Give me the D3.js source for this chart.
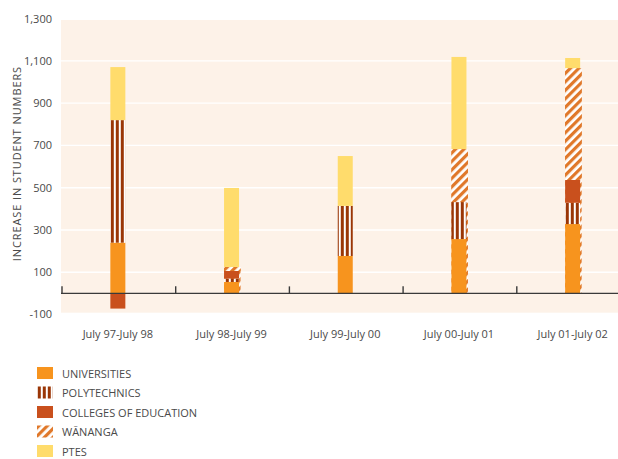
<!DOCTYPE html>
<html>
<head>
<meta charset="utf-8">
<script src="https://cdn.jsdelivr.net/npm/d3@7"></script>
<style>
  html, body { margin: 0; padding: 0; background: #ffffff; }
  svg { display: block; font-family: "Open Sans", "DejaVu Sans", sans-serif; }
</style>
</head>
<body>
<svg id="chart" width="618" height="459"></svg>
<script>
// Annual change in tertiary student numbers by provider type
const categories = ["July 97-July 98", "July 98-July 99", "July 99-July 00", "July 00-July 01", "July 01-July 02"];
const universities = [240, 54, 177, 257, 328];
const polytechnics = [580, 16, 237, 175, 101];
const colleges     = [-72, 36, 0, 0, 108];
const wananga      = [0, 19, 0, 251, 529];
const ptes         = [251, 374, 236, 436, 48];
const seriesNames  = ["UNIVERSITIES", "POLYTECHNICS", "COLLEGES OF EDUCATION", "WĀNANGA", "PTES"];
const yTicks = [-100, 100, 300, 500, 700, 900, 1100, 1300];

const keys = ["uni", "poly", "coll", "wan", "pte"];
const rows = categories.map((c, i) => ({
  cat: c, uni: universities[i], poly: polytechnics[i], coll: colleges[i], wan: wananga[i], pte: ptes[i]
}));

const svg = d3.select("#chart");
const defs = svg.append("defs");

// vertical stripe fill for polytechnics
const pPoly = defs.append("pattern").attr("id", "polyPat")
  .attr("patternUnits", "userSpaceOnUse").attr("width", 5).attr("height", 5)
  .attr("x", 0.8);
pPoly.append("rect").attr("width", 5).attr("height", 5).attr("fill", "#ffffff");
pPoly.append("rect").attr("width", 3).attr("height", 5).attr("fill", "#9a3606");

// diagonal hatch fill for wananga
const pWan = defs.append("pattern").attr("id", "wanPat")
  .attr("patternUnits", "userSpaceOnUse").attr("width", 6).attr("height", 6)
  .attr("patternTransform", "rotate(45)");
pWan.append("rect").attr("width", 6).attr("height", 6).attr("fill", "#ffffff");
pWan.append("rect").attr("width", 3.2).attr("height", 6).attr("fill", "#e0782a");

const fills = {
  uni: "#f7941e",
  poly: "url(#polyPat)",
  coll: "#c9501d",
  wan: "url(#wanPat)",
  pte: "#ffdc6c"
};

const x = d3.scaleBand().domain(categories).range([61.5, 630]).padding(0);
const y = d3.scaleLinear().domain([-100, 1300]).range([314.5, 18.7]);
const barW = 15;
const barX = c => x(c) + x.bandwidth() / 2 - barW / 2 - 0.5;

// plot panel
svg.append("rect")
  .attr("x", 61).attr("y", y(1300) + 1.3)
  .attr("width", 618 - 61).attr("height", y(-100) - y(1300) - 3.1)
  .attr("fill", "#fdf2e8");

// white gridlines
svg.append("g").selectAll("line")
  .data(yTicks.filter(t => t > -100 && t < 1300))
  .join("line")
  .attr("x1", 61).attr("x2", 618)
  .attr("y1", d => y(d)).attr("y2", d => y(d))
  .attr("stroke", "#ffffff").attr("stroke-width", 1.3);

// y axis labels
const fmt = d3.format(",");
svg.append("g").selectAll("text")
  .data(yTicks)
  .join("text")
  .attr("x", 52).attr("y", d => y(d)).attr("dy", "0.35em")
  .attr("text-anchor", "end")
  .attr("font-size", 11).attr("fill", "#4a4a4a")
  .text(d => fmt(d).replace("−", "-"));

// y axis title
svg.append("text")
  .attr("transform", `translate(21,${(y(100) + y(1100)) / 2 - 3}) rotate(-90)`)
  .attr("text-anchor", "middle")
  .attr("font-size", 11).attr("letter-spacing", 0.9).attr("fill", "#4a4a4a")
  .text("INCREASE IN STUDENT NUMBERS");

// stacked bars (negative values stack below zero)
const stack = d3.stack().keys(keys).offset(d3.stackOffsetDiverging);
const layers = stack(rows);

// wananga hatch sits slightly wider behind the rest of the column
const wanLayer = layers.find(l => l.key === "wan");
svg.append("g").selectAll("rect")
  .data(wanLayer.filter(d => d[1] - d[0] > 0))
  .join("rect")
  .attr("x", d => barX(d.data.cat))
  .attr("width", barW + 1.5)
  .attr("y", d => y(d[1]))
  .attr("height", d => y(0) - y(d[1]))
  .attr("fill", fills.wan);

const gBars = svg.append("g");
layers.forEach(layer => {
  gBars.append("g").selectAll("rect")
    .data(layer.filter(d => d[1] - d[0] !== 0))
    .join("rect")
    .attr("x", d => barX(d.data.cat))
    .attr("width", layer.key === "wan" ? barW + 1.5 : barW)
    .attr("y", d => y(Math.max(d[0], d[1])))
    .attr("height", d => Math.abs(y(d[0]) - y(d[1])))
    .attr("fill", fills[layer.key]);
});

// zero baseline with category separators
svg.append("line")
  .attr("x1", 61).attr("x2", 618)
  .attr("y1", y(0)).attr("y2", y(0))
  .attr("stroke", "#3a3a3a").attr("stroke-width", 1.4);
svg.append("g").selectAll("line")
  .data(categories)
  .join("line")
  .attr("x1", d => x(d) + 0.5).attr("x2", d => x(d) + 0.5)
  .attr("y1", y(0) - 7).attr("y2", y(0))
  .attr("stroke", "#3a3a3a").attr("stroke-width", 1.4);

// category labels
svg.append("g").selectAll("text")
  .data(categories)
  .join("text")
  .attr("x", d => barX(d) + barW / 2)
  .attr("y", 338)
  .attr("text-anchor", "middle")
  .attr("font-size", 11).attr("fill", "#4a4a4a")
  .text(d => d);

// legend
const legend = svg.append("g").selectAll("g")
  .data(keys)
  .join("g")
  .attr("transform", (d, i) => `translate(37,${367 + i * 19.5})`);
legend.append("rect")
  .attr("width", 16).attr("height", 12)
  .attr("fill", d => fills[d]);
legend.append("text")
  .attr("x", 25).attr("y", 10.5)
  .attr("font-size", 11).attr("fill", "#4a4a4a")
  .text((d, i) => seriesNames[i]);
</script>
</body>
</html>
